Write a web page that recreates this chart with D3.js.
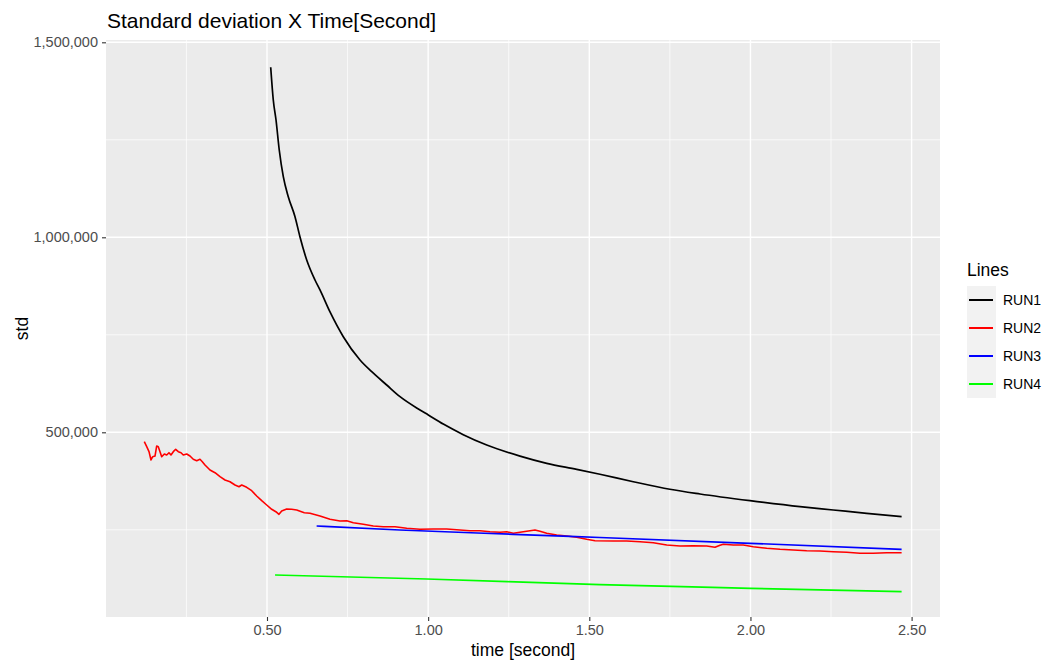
<!DOCTYPE html>
<html><head><meta charset="utf-8">
<script src="https://cdn.jsdelivr.net/npm/d3@7"></script>
<style>body{margin:0;background:#fff}svg{display:block;font-family:"Liberation Sans",Arial,Helvetica,sans-serif}</style>
</head><body><svg id="c" width="1050" height="661"></svg>
<script>
const run1T=[0.5115,0.5195,0.528,0.538,0.5506,0.566,0.5869,0.6024,0.6232,0.6489,0.6644,0.6955,0.7367,0.7886,0.8249,0.8714,0.9127,0.9747,1.0005,1.047,1.109,1.1817,1.285,1.368,1.461,1.533,1.6365,1.750,1.8435,1.9986,2.1537,2.257,2.3607,2.469];
const run1V=[1435900,1352100,1300800,1223800,1155400,1104100,1052800,1000800,941800,890500,865000,808500,745100,685400,655400,621300,591300,557200,544400,521000,494000,467400,439000,420500,405100,392500,373300,353900,341800,324600,309200,300800,292300,283600];
const run2T=[0.1193,0.1268,0.1339,0.1401,0.1454,0.1525,0.1578,0.1627,0.168,0.1733,0.1814,0.1888,0.1959,0.2021,0.2093,0.2167,0.2248,0.2332,0.2403,0.2509,0.2611,0.2713,0.2819,0.2921,0.2993,0.3076,0.3231,0.3387,0.3542,0.3697,0.3852,0.4007,0.4131,0.4215,0.437,0.4525,0.468,0.4836,0.4991,0.5146,0.5301,0.5372,0.5456,0.5611,0.5766,0.5921,0.6157,0.6334,0.6644,0.6955,0.7265,0.7473,0.7678,0.7988,0.8298,0.8608,0.8971,0.9335,0.9747,1.016,1.0576,1.0988,1.1298,1.1609,1.1919,1.2229,1.2437,1.2642,1.285,1.3107,1.3315,1.347,1.3678,1.3989,1.4299,1.4609,1.4919,1.5177,1.5745,1.616,1.6573,1.6986,1.7402,1.7814,1.8227,1.8643,1.89,1.9055,1.9158,1.9468,1.9778,2.0088,2.0504,2.0917,2.133,2.1745,2.2158,2.257,2.2986,2.3399,2.381,2.4227,2.469];
const run2V=[475900,463100,450300,429000,437400,439200,464900,463100,450300,437400,444400,441800,447700,441800,450300,456400,450300,447700,441800,444400,439200,430800,427200,430800,424600,416200,403300,396400,386200,377700,373300,364900,360500,364900,359000,350300,336700,324600,313600,302600,294900,289700,298200,303300,302600,300800,293800,292300,285400,276900,272600,273300,268200,264100,259700,257900,257900,253800,251300,252000,252000,249500,247700,247700,245100,243600,245100,241000,243600,246900,249500,246200,241000,236700,234100,230800,225600,222000,221300,221300,219500,216900,211000,208500,209200,208500,205100,210200,212800,211000,211000,206700,202600,200000,198200,196400,195600,193800,192300,189700,189700,191300,191300];
const run3T=[0.654,0.912,1.264,1.533,1.999,2.469];
const run3V=[259700,249500,238500,230300,215400,200000];
const run4T=[0.525,0.9955,1.533,2.001,2.469];
const run4V=[134100,123900,109200,100000,91300];
const seriesNames=["RUN1","RUN2","RUN3","RUN4"];
const seriesColors=["#000000","#FF0000","#0000FF","#00FF00"];
const xTicks=[0.5,1.0,1.5,2.0,2.5];
const xMinor=[0.25,0.75,1.25,1.75,2.25];
const yTicks=[500000,1000000,1500000];
const yMinor=[250000,750000,1250000];

const svg=d3.select("#c");
const L=106,R=940,T=40,B=617;
const x=d3.scaleLinear().domain([0.00047,2.5881]).range([L,R]);
const y=d3.scaleLinear().domain([26410,1505900]).range([B,T]);

svg.append("rect").attr("x",L).attr("y",T).attr("width",R-L).attr("height",B-T).attr("fill","#EBEBEB");
const g=svg.append("g");
xMinor.forEach(v=>g.append("line").attr("x1",x(v)).attr("x2",x(v)).attr("y1",T).attr("y2",B).attr("stroke","#fff").attr("stroke-width",0.7));
yMinor.forEach(v=>g.append("line").attr("y1",y(v)).attr("y2",y(v)).attr("x1",L).attr("x2",R).attr("stroke","#fff").attr("stroke-width",0.7));
xTicks.forEach(v=>g.append("line").attr("x1",x(v)).attr("x2",x(v)).attr("y1",T).attr("y2",B).attr("stroke","#fff").attr("stroke-width",1.4));
yTicks.forEach(v=>g.append("line").attr("y1",y(v)).attr("y2",y(v)).attr("x1",L).attr("x2",R).attr("stroke","#fff").attr("stroke-width",1.4));

const fmt=d3.format(",");
const xAxis=svg.append("g").attr("transform",`translate(0,${B})`)
  .call(d3.axisBottom(x).tickValues(xTicks).tickFormat(d3.format(".2f")).tickSize(4).tickPadding(4));
const yAxis=svg.append("g").attr("transform",`translate(${L},0)`)
  .call(d3.axisLeft(y).tickValues(yTicks).tickFormat(fmt).tickSize(4).tickPadding(4));
[xAxis,yAxis].forEach(a=>{a.select(".domain").remove();a.selectAll(".tick line").attr("stroke","#333").attr("stroke-width",1.1);
  a.selectAll(".tick text").attr("fill","#4D4D4D").style("font-size","14.5px").style("font-family","'Liberation Sans',Arial,sans-serif");});

const data=[[run1T,run1V],[run2T,run2V],[run3T,run3V],[run4T,run4V]];
data.forEach((s,i)=>{
  const pts=s[0].map((t,j)=>[t,s[1][j]]);
  const line=d3.line().x(d=>x(d[0])).y(d=>y(d[1])).curve(i===1?d3.curveLinear:d3.curveMonotoneX);
  svg.append("path").datum(pts).attr("d",line).attr("fill","none").attr("stroke",seriesColors[i]).attr("stroke-width",i===1?1.6:1.7).attr("stroke-linejoin","round");
});

svg.append("text").attr("x",107).attr("y",28).text("Standard deviation X Time[Second]").style("font-size","21px").attr("fill","#000");
svg.append("text").attr("x",(L+R)/2).attr("y",656).attr("text-anchor","middle").text("time [second]").style("font-size","17.5px").attr("fill","#000");
svg.append("text").attr("transform",`translate(28,${(T+B)/2}) rotate(-90)`).attr("text-anchor","middle").text("std").style("font-size","17.5px").attr("fill","#000");

const lg=svg.append("g");
lg.append("text").attr("x",967).attr("y",276).text("Lines").style("font-size","17.5px");
seriesNames.forEach((n,i)=>{
  const yy=286+i*28;
  lg.append("rect").attr("x",967).attr("y",yy).attr("width",29).attr("height",28).attr("fill","#F2F2F2");
  lg.append("line").attr("x1",969).attr("x2",993).attr("y1",yy+14).attr("y2",yy+14).attr("stroke",seriesColors[i]).attr("stroke-width",2);
  lg.append("text").attr("x",1003).attr("y",yy+14).attr("dy","0.35em").text(n).style("font-size","14px").attr("fill","#000");
});
</script></body></html>
